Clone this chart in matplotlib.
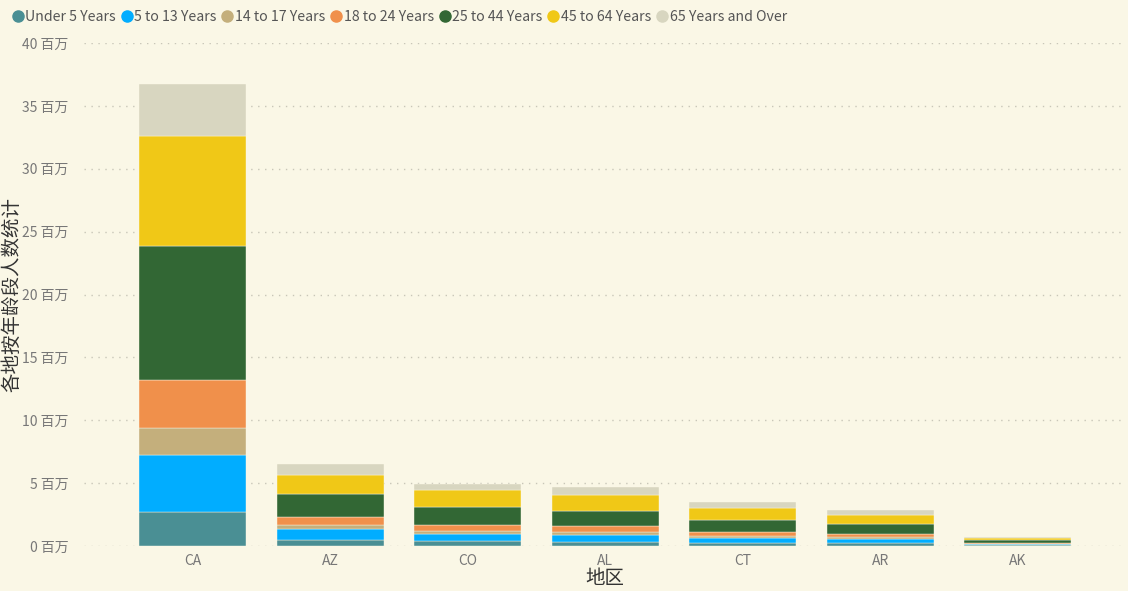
import matplotlib
matplotlib.use("Agg")
import matplotlib.pyplot as plt
from matplotlib.lines import Line2D
from matplotlib.ticker import FuncFormatter, MultipleLocator
import numpy as np

plt.rcParams['font.family'] = ['Noto Sans CJK SC', 'DejaVu Sans']

states = ["CA", "AZ", "CO", "AL", "CT", "AR", "AK"]
age_groups = ["Under 5 Years", "5 to 13 Years", "14 to 17 Years", "18 to 24 Years",
              "25 to 44 Years", "45 to 64 Years", "65 Years and Over"]

under_5 = [2704659, 515910, 358280, 310504, 211637, 202070, 52083]
age_5_13 = [4499890, 828669, 587154, 552339, 403658, 343207, 85640]
age_14_17 = [2159981, 362642, 261701, 259034, 196918, 157204, 42153]
age_18_24 = [3853788, 601943, 466194, 450818, 325110, 264160, 74257]
age_25_44 = [10604510, 1804762, 1464939, 1231572, 916955, 754420, 198724]
age_45_64 = [8819342, 1523681, 1290094, 1215966, 968967, 727124, 183159]
age_65_up = [4114496, 862573, 511094, 641667, 478007, 407205, 50277]

series = [under_5, age_5_13, age_14_17, age_18_24, age_25_44, age_45_64, age_65_up]
colors = ["#4A8F94", "#01ADFF", "#C4AF7C", "#F0904B", "#326734", "#F0C817", "#D8D6C0"]

bg = "#FAF7E6"
fig = plt.figure(figsize=(11.28, 5.91), dpi=100, facecolor=bg)
ax = fig.add_axes([84 / 1128, 1 - 546 / 591, (1125 - 84) / 1128, (546 - 43) / 591])
ax.set_facecolor(bg)

x = np.arange(len(states))
bottom = np.zeros(len(states))
for vals, col, name in zip(series, colors, age_groups):
    ax.bar(x, vals, width=0.78, bottom=bottom, color=col, label=name,
           edgecolor=bg, linewidth=0.3, zorder=3)
    bottom += np.array(vals)

ax.set_xlim(-0.79, 6.78)
ax.set_ylim(0, 40e6)
ax.yaxis.set_major_locator(MultipleLocator(5e6))
ax.yaxis.set_major_formatter(FuncFormatter(lambda v, p: f"{v / 1e6:.0f} 百万"))
ax.grid(axis="y", color="#C8C6B8", linestyle=(0, (1, 4)), linewidth=1, zorder=0)
for s in ax.spines.values():
    s.set_visible(False)
ax.tick_params(axis="both", length=0, colors="#777777", labelsize=10)
ax.tick_params(axis="y", pad=11)
ax.tick_params(axis="x", pad=6)
ax.set_xticks(x)
ax.set_xticklabels(states)

# y label placed by hand so it is not clipped at the left edge
fig.text(12 / 1128, 1 - 295 / 591, "各地按年龄段人数统计", rotation=90,
         ha="center", va="center", fontsize=14, color="#333333")
ax.set_xlabel("地区", fontsize=14, color="#333333", labelpad=0)

handles = [Line2D([0], [0], marker="o", linestyle="", markersize=8,
                  markerfacecolor=c, markeredgecolor=c) for c in colors]
fig.legend(handles, age_groups, loc="upper left", bbox_to_anchor=(-0.002, 1.005),
           ncol=7, frameon=False, handletextpad=0.05, columnspacing=0.25,
           handlelength=1.0, fontsize=10.2, labelcolor="#555555")

fig.savefig("out.png", dpi=100, facecolor=bg)
